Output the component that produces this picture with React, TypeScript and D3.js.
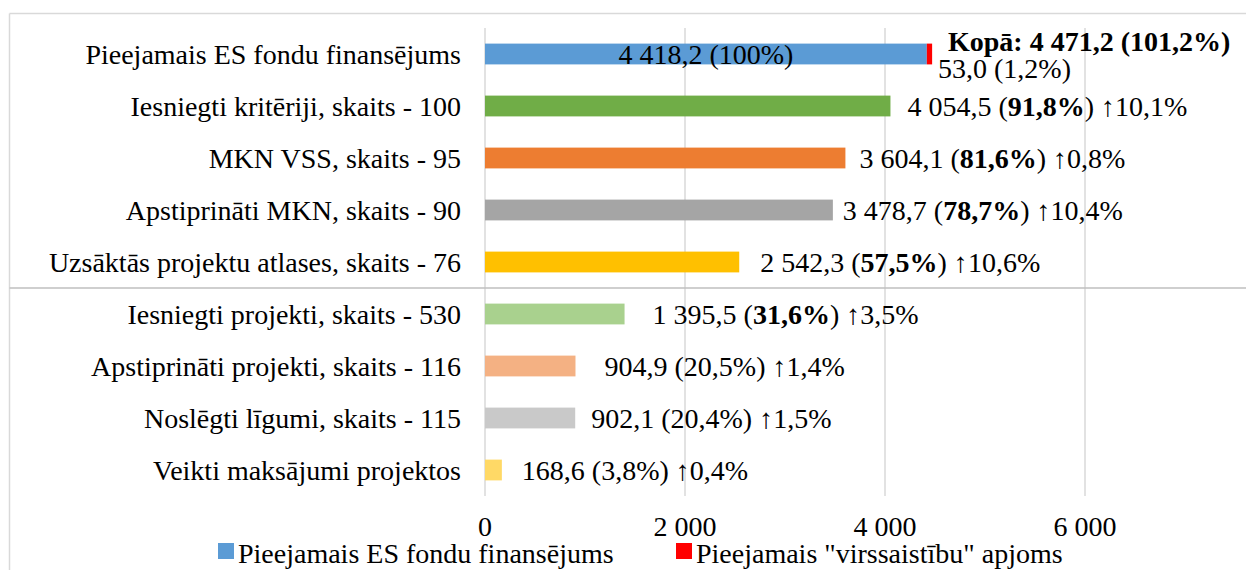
import React from "react";
import * as d3 from "d3";

const categories = [
  "Pieejamais ES fondu finansējums",
  "Iesniegti kritēriji, skaits - 100",
  "MKN VSS, skaits - 95",
  "Apstiprināti MKN, skaits - 90",
  "Uzsāktās projektu atlases, skaits - 76",
  "Iesniegti projekti, skaits - 530",
  "Apstiprināti projekti, skaits - 116",
  "Noslēgti līgumi, skaits - 115",
  "Veikti maksājumi projektos",
];
const values = [4418.2, 4054.5, 3604.1, 3478.7, 2542.3, 1395.5, 904.9, 902.1, 168.6];
const overrun = [53.0, 0, 0, 0, 0, 0, 0, 0, 0];
const valueLabels = ["4 418,2", "4 054,5", "3 604,1", "3 478,7", "2 542,3", "1 395,5", "904,9", "902,1", "168,6"];
const percentLabels = ["100%", "91,8%", "81,6%", "78,7%", "57,5%", "31,6%", "20,5%", "20,4%", "3,8%"];
const percentBold = [false, true, true, true, true, true, false, false, false];
const increaseLabels = ["", "10,1%", "0,8%", "10,4%", "10,6%", "3,5%", "1,4%", "1,5%", "0,4%"];
const totalLabel = "Kopā: 4 471,2 (101,2%)";
const overrunLabel = "53,0 (1,2%)";
const ticks = [0, 2000, 4000, 6000];
const tickLabels = ["0", "2 000", "4 000", "6 000"];
const legendLabels = ["Pieejamais ES fondu finansējums", "Pieejamais \"virssaistību\" apjoms"];

const barColors = ["#5B9BD5", "#70AD47", "#ED7D31", "#A5A5A5", "#FFC000", "#A9D18E", "#F4B183", "#C9C9C9", "#FFD966"];
const overrunColor = "#FF0000";
const labelGap = [0, 17, 14, 10, 21, 28, 29, 16, 20];

const W = 1246;
const H = 570;
const FONT = "'Liberation Serif', 'Times New Roman', serif";
const FS = 28;

export default function App() {
  const x = d3.scaleLinear().domain([0, 7600]).range([485, 1245]);
  const y = d3.scaleBand<string>().domain(categories).range([28, 496]).paddingInner(0.6).paddingOuter(0.3);
  const bw = y.bandwidth();
  const sepY = ((y(categories[4]) as number) + bw + (y(categories[5]) as number)) / 2;

  return (
    <svg width={W} height={H} style={{ position: "fixed", left: 0, top: 0, background: "#fff" }} fontFamily={FONT}>
      <rect x={0} y={0} width={W} height={H} fill="#fff" />
      {/* outer frame */}
      <line x1={9.5} y1={13.5} x2={W} y2={13.5} stroke="#d9d9d9" strokeWidth={1.5} />
      <line x1={9.5} y1={13.5} x2={9.5} y2={H} stroke="#d9d9d9" strokeWidth={1.5} />
      {/* gridlines */}
      {ticks.map((t) => (
        <line key={t} x1={x(t)} x2={x(t)} y1={28} y2={496} stroke="#d9d9d9" strokeWidth={1.5} />
      ))}
      {/* separator */}
      <line x1={9.5} x2={W} y1={sepY} y2={sepY} stroke="#bfbfbf" strokeWidth={1.5} />
      {/* bars */}
      {categories.map((c, i) => (
        <g key={c}>
          <rect x={x(0)} y={y(c)} width={x(values[i]) - x(0)} height={bw} fill={barColors[i]} />
          {overrun[i] > 0 && (
            <rect x={x(values[i])} y={y(c)} width={x(values[i] + overrun[i]) - x(values[i])} height={bw} fill={overrunColor} />
          )}
        </g>
      ))}
      {/* category labels */}
      {categories.map((c) => (
        <text key={c} x={461} y={(y(c) as number) + bw / 2} dy="0.35em" textAnchor="end" fontSize={FS} fill="#000">
          {c}
        </text>
      ))}
      {/* data labels */}
      {categories.map((c, i) => {
        const cy = (y(c) as number) + bw / 2;
        if (i === 0) {
          return (
            <g key={c}>
              <text x={(x(0) + x(values[0])) / 2} y={cy} dy="0.35em" textAnchor="middle" fontSize={FS} fill="#000">
                {valueLabels[0]} ({percentLabels[0]})
              </text>
              <text x={948} y={cy - 13} dy="0.35em" fontSize={FS} fontWeight="bold" fill="#000">
                {totalLabel}
              </text>
              <text x={938} y={cy + 14} dy="0.35em" fontSize={FS} fill="#000">
                {overrunLabel}
              </text>
            </g>
          );
        }
        return (
          <text key={c} x={x(values[i]) + labelGap[i]} y={cy} dy="0.35em" fontSize={FS} fill="#000">
            {valueLabels[i]} (
            <tspan fontWeight={percentBold[i] ? "bold" : "normal"}>{percentLabels[i]}</tspan>) ↑{increaseLabels[i]}
          </text>
        );
      })}
      {/* axis tick labels */}
      {ticks.map((t, i) => (
        <text key={t} x={x(t)} y={536} textAnchor="middle" fontSize={FS} fill="#000">
          {tickLabels[i]}
        </text>
      ))}
      {/* legend */}
      <rect x={218} y={543} width={16} height={16} fill={barColors[0]} />
      <text x={238} y={563} fontSize={FS} fill="#000">{legendLabels[0]}</text>
      <rect x={676} y={543} width={16} height={16} fill={overrunColor} />
      <text x={696} y={563} fontSize={FS} fill="#000">{legendLabels[1]}</text>
    </svg>
  );
}
